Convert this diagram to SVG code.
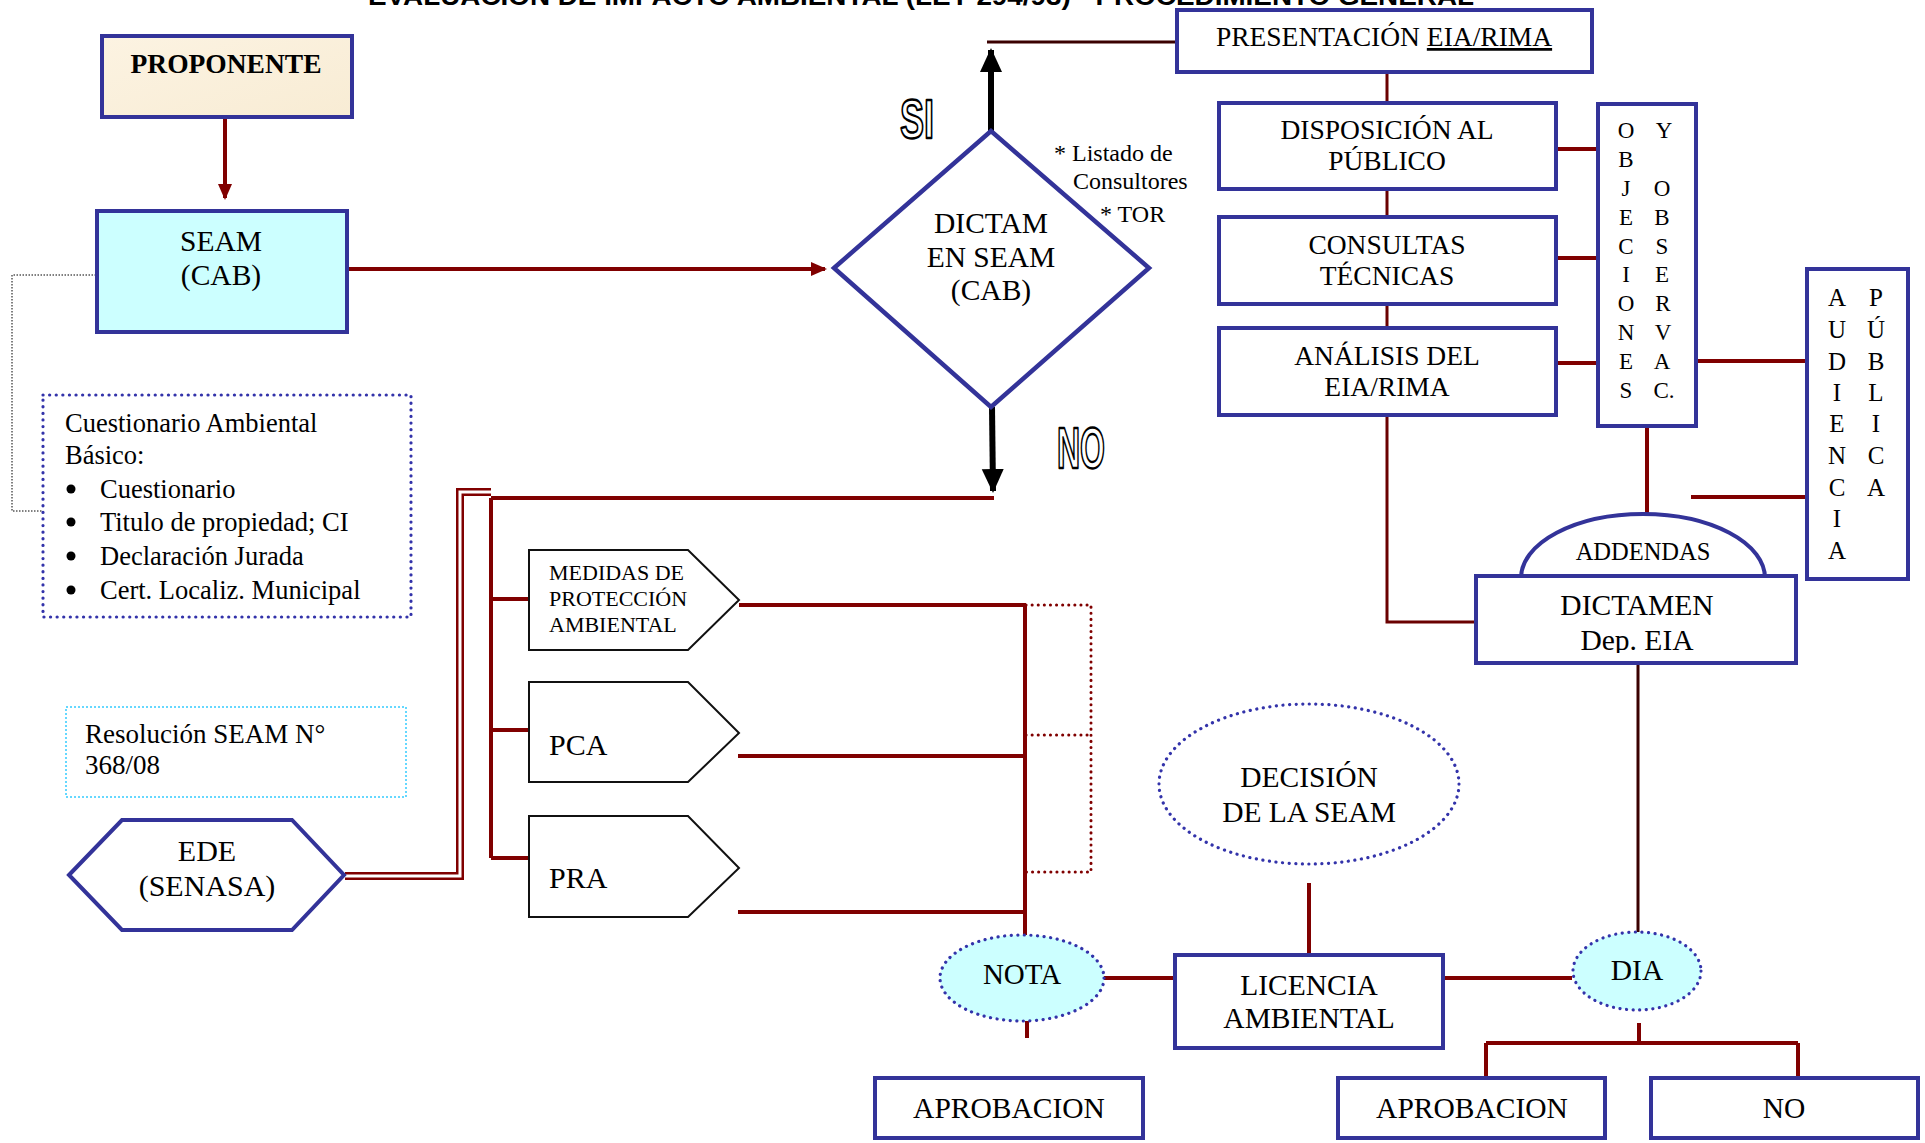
<svg xmlns="http://www.w3.org/2000/svg" width="1925" height="1143" viewBox="0 0 1925 1143">
<style>
  .t{font-family:"Liberation Serif","Times New Roman",serif;fill:#000;}
  .c{text-anchor:middle;}
  .box{fill:#fff;stroke:#333399;stroke-width:4;}
  .cyan{fill:#CCFFFF;}
  .dotb{fill:none;stroke:#3333AA;stroke-width:3.2;stroke-dasharray:0.1 6.5;stroke-linecap:round;}
  .pent{fill:#fff;stroke:#111;stroke-width:2;}
  .red{fill:none;stroke:#800000;stroke-width:4;}
  .redt{fill:none;stroke:#6a0000;stroke-width:3;}
  .out{font-family:"Liberation Sans",Arial,sans-serif;font-weight:bold;fill:#fff;stroke:#000;stroke-width:2.4;stroke-linejoin:round;}
</style>
<defs>
  <marker id="ar" markerUnits="userSpaceOnUse" markerWidth="16" markerHeight="16" viewBox="0 0 16 14" refX="14" refY="7" orient="auto">
    <path d="M0,0 L16,7 L0,14 z" fill="#800000"/>
  </marker>
  <marker id="ab" markerUnits="userSpaceOnUse" markerWidth="24" markerHeight="24" viewBox="0 0 24 22" refX="22" refY="11" orient="auto">
    <path d="M0,0 L24,11 L0,22 z" fill="#000"/>
  </marker>
  <clipPath id="clipDict"><rect x="1476" y="576" width="320" height="77"/></clipPath>
  <linearGradient id="cream" x1="0" y1="0" x2="1" y2="1">
    <stop offset="0" stop-color="#FCF3E2"/>
    <stop offset="1" stop-color="#F8ECD4"/>
  </linearGradient>
</defs>
<rect width="1925" height="1143" fill="#fff"/>

<text x="368" y="5" font-family="Liberation Sans,Arial,sans-serif" font-weight="bold" font-size="25" textLength="1106" lengthAdjust="spacingAndGlyphs">EVALUACIÓN DE IMPACTO AMBIENTAL (LEY 294/93)  - PROCEDIMIENTO GENERAL</text>

<g id="connectors">
  <line x1="225" y1="117" x2="225" y2="198" class="red" stroke-width="3" marker-end="url(#ar)"/>
  <line x1="347" y1="269" x2="825" y2="269" class="red" marker-end="url(#ar)"/>
  <path d="M96,275 H12 V511 H43" fill="none" stroke="#000" stroke-width="1" stroke-dasharray="1.5 1.5"/>
  <line x1="991" y1="132" x2="991" y2="50" stroke="#000" stroke-width="6" marker-end="url(#ab)"/>
  <line x1="992" y1="407" x2="993" y2="491" stroke="#000" stroke-width="6" marker-end="url(#ab)"/>
  <line x1="987" y1="42" x2="1177" y2="42" stroke="#3a0000" stroke-width="3"/>
  <path d="M1387,72 V103 M1387,189 V217 M1387,304 V328 M1387,415 V622 H1476" class="redt"/>
  <path d="M1556,149 H1598 M1556,258 H1598 M1556,363 H1598" class="red"/>
  <path d="M1696,361 H1807 M1691,497 H1807 M1647,426 V513" class="red"/>
  <line x1="1638" y1="663" x2="1638" y2="932" stroke="#3a0000" stroke-width="3"/>
  <path d="M345,876 H460 V492 H491" fill="none" stroke="#800000" stroke-width="8"/>
  <path d="M345,876 H460 V492 H491" fill="none" stroke="#fff" stroke-width="3"/>
  <path d="M491,498 H994 M491,498 V858 M491,599 H529 M491,730 H529 M491,858 H529" class="red"/>
  <path d="M739,605 H1026 M738,756 H1024 M738,912 H1027 M1025,605 V935 M1027,1021 V1038" class="red"/>
  <path d="M1026,605 H1091 V872 H1026 M1026,735 H1091" fill="none" stroke="#800000" stroke-width="3" stroke-dasharray="0.1 6" stroke-linecap="round"/>
  <path d="M1104,978 H1175 M1443,978 H1572 M1309,883 V955" class="red"/>
  <path d="M1639,1023 V1043 M1486,1043 H1798 M1486,1043 V1077 M1798,1043 V1077" class="red"/>
</g>

<g id="title-si-no">
  <text x="900" y="138" class="out" font-size="56" textLength="34" lengthAdjust="spacingAndGlyphs">SI</text>
  <text x="1057" y="468" class="out" font-size="57" textLength="48" lengthAdjust="spacingAndGlyphs">NO</text>
</g>

<g id="proponente">
  <rect x="102" y="36" width="250" height="81" fill="url(#cream)" stroke="#333399" stroke-width="4"/>
  <text x="226" y="73" class="t c" font-size="27.5" font-weight="bold">PROPONENTE</text>
</g>

<g id="seam">
  <rect x="97" y="211" width="250" height="121" class="box cyan"/>
  <text x="221" y="251" class="t c" font-size="29.5">SEAM</text>
  <text x="221" y="285" class="t c" font-size="29.5">(CAB)</text>
</g>

<g id="dictam">
  <polygon points="834,268 991,131 1149,268 991,407" fill="#fff" stroke="#333399" stroke-width="4.5"/>
  <text x="991" y="233" class="t c" font-size="29.5">DICTAM</text>
  <text x="991" y="267" class="t c" font-size="29.5">EN SEAM</text>
  <text x="991" y="300" class="t c" font-size="29.5">(CAB)</text>
</g>

<g id="notas-dictam">
  <text x="1054" y="161" class="t" font-size="24">* Listado de</text>
  <text x="1073" y="189" class="t" font-size="24">Consultores</text>
  <text x="1100" y="222" class="t" font-size="24">* TOR</text>
</g>

<g id="cuestionario">
  <rect x="43" y="395" width="368" height="222" class="dotb"/>
  <text x="65" y="432" class="t" font-size="26.5">Cuestionario Ambiental</text>
  <text x="65" y="464" class="t" font-size="26.5">Básico:</text>
  <g class="t" font-size="26.5">
    <circle cx="71" cy="489" r="4.5" fill="#000"/>
    <text x="100" y="498">Cuestionario</text>
    <circle cx="71" cy="522" r="4.5" fill="#000"/>
    <text x="100" y="531">Titulo de propiedad; CI</text>
    <circle cx="71" cy="556" r="4.5" fill="#000"/>
    <text x="100" y="565">Declaración Jurada</text>
    <circle cx="71" cy="590" r="4.5" fill="#000"/>
    <text x="100" y="599">Cert. Localiz. Municipal</text>
  </g>
</g>

<g id="resolucion">
  <rect x="66" y="707" width="340" height="90" fill="none" stroke="#33CCFF" stroke-width="1.5" stroke-dasharray="2 2"/>
  <text x="85" y="743" class="t" font-size="27">Resolución SEAM N°</text>
  <text x="85" y="774" class="t" font-size="27">368/08</text>
</g>

<g id="ede">
  <polygon points="69,875 122,820 292,820 344,875 292,930 122,930" class="box"/>
  <text x="207" y="861" class="t c" font-size="30">EDE</text>
  <text x="207" y="896" class="t c" font-size="30">(SENASA)</text>
</g>

<g id="medidas">
  <polygon points="529,550 688,550 739,600 688,650 529,650" class="pent"/>
  <text x="549" y="580" class="t" font-size="22">MEDIDAS DE</text>
  <text x="549" y="606" class="t" font-size="22">PROTECCIÓN</text>
  <text x="549" y="632" class="t" font-size="22">AMBIENTAL</text>
</g>

<g id="pca">
  <polygon points="529,682 688,682 739,733 688,782 529,782" class="pent"/>
  <text x="549" y="755" class="t" font-size="30">PCA</text>
</g>

<g id="pra">
  <polygon points="529,816 688,816 739,868 688,917 529,917" class="pent"/>
  <text x="549" y="888" class="t" font-size="30">PRA</text>
</g>

<g id="nota">
  <ellipse cx="1022" cy="978" rx="82" ry="43" class="cyan"/>
  <ellipse cx="1022" cy="978" rx="82" ry="43" class="dotb"/>
  <text x="1022" y="984" class="t c" font-size="29">NOTA</text>
</g>

<g id="aprobacion-nota">
  <rect x="875" y="1078" width="268" height="60" class="box"/>
  <text x="1009" y="1118" class="t c" font-size="29.5">APROBACION</text>
</g>

<g id="licencia">
  <rect x="1175" y="955" width="268" height="93" class="box"/>
  <text x="1309" y="995" class="t c" font-size="29.5">LICENCIA</text>
  <text x="1309" y="1028" class="t c" font-size="29.5">AMBIENTAL</text>
</g>

<g id="decision">
  <ellipse cx="1309" cy="784" rx="150" ry="80" class="dotb"/>
  <text x="1309" y="787" class="t c" font-size="29.5">DECISIÓN</text>
  <text x="1309" y="822" class="t c" font-size="29.5">DE LA SEAM</text>
</g>

<g id="dia">
  <ellipse cx="1637" cy="971" rx="64" ry="39" class="cyan"/>
  <ellipse cx="1637" cy="971" rx="64" ry="39" class="dotb"/>
  <text x="1637" y="980" class="t c" font-size="29.5">DIA</text>
</g>

<g id="aprobacion-dia">
  <rect x="1338" y="1078" width="267" height="60" class="box"/>
  <text x="1472" y="1118" class="t c" font-size="29.5">APROBACION</text>
</g>

<g id="no-dia">
  <rect x="1651" y="1078" width="267" height="60" class="box"/>
  <text x="1784" y="1118" class="t c" font-size="29.5">NO</text>
</g>

<g id="presentacion">
  <rect x="1177" y="10" width="415" height="62" class="box"/>
  <text x="1384" y="46" class="t c" font-size="27.5">PRESENTACIÓN <tspan text-decoration="underline">EIA/RIMA</tspan></text>
</g>

<g id="disposicion">
  <rect x="1219" y="103" width="337" height="86" class="box"/>
  <text x="1387" y="139" class="t c" font-size="27.5">DISPOSICIÓN AL</text>
  <text x="1387" y="170" class="t c" font-size="27.5">PÚBLICO</text>
</g>

<g id="consultas">
  <rect x="1219" y="217" width="337" height="87" class="box"/>
  <text x="1387" y="254" class="t c" font-size="27.5">CONSULTAS</text>
  <text x="1387" y="285" class="t c" font-size="27.5">TÉCNICAS</text>
</g>

<g id="analisis">
  <rect x="1219" y="328" width="337" height="87" class="box"/>
  <text x="1387" y="365" class="t c" font-size="27.5">ANÁLISIS DEL</text>
  <text x="1387" y="396" class="t c" font-size="27.5">EIA/RIMA</text>
</g>

<g id="objeciones">
  <rect x="1598" y="104" width="98" height="322" class="box"/>
  <g class="t c" font-size="23">
    <text x="1626" y="138">O</text><text x="1626" y="167">B</text><text x="1626" y="196">J</text><text x="1626" y="225">E</text><text x="1626" y="254">C</text><text x="1626" y="282">I</text><text x="1626" y="311">O</text><text x="1626" y="340">N</text><text x="1626" y="369">E</text><text x="1626" y="398">S</text>
    <text x="1664" y="138">Y</text><text x="1662" y="196">O</text><text x="1662" y="225">B</text><text x="1662" y="254">S</text><text x="1662" y="282">E</text><text x="1663" y="311">R</text><text x="1663" y="340">V</text><text x="1662" y="369">A</text><text x="1664" y="398">C.</text>
  </g>
</g>

<g id="audiencia">
  <rect x="1807" y="269" width="101" height="310" class="box"/>
  <g class="t c" font-size="25">
    <text x="1837" y="306">A</text><text x="1837" y="338">U</text><text x="1837" y="370">D</text><text x="1837" y="401">I</text><text x="1837" y="432">E</text><text x="1837" y="464">N</text><text x="1837" y="496">C</text><text x="1837" y="527">I</text><text x="1837" y="559">A</text>
    <text x="1876" y="306">P</text><text x="1876" y="338">Ú</text><text x="1876" y="370">B</text><text x="1876" y="401">L</text><text x="1876" y="432">I</text><text x="1876" y="464">C</text><text x="1876" y="496">A</text>
  </g>
</g>

<g id="addendas">
  <path d="M1521,578 A122,64 0 0 1 1765,578 Z" class="box"/>
  <text x="1643" y="560" class="t c" font-size="24.5">ADDENDAS</text>
</g>

<g id="dictamen">
  <rect x="1476" y="576" width="320" height="87" class="box"/>
  <text x="1637" y="615" class="t c" font-size="29.5">DICTAMEN</text>
  <text x="1637" y="650" class="t c" font-size="29.5" clip-path="url(#clipDict)">Dep. EIA</text>
</g>
</svg>
